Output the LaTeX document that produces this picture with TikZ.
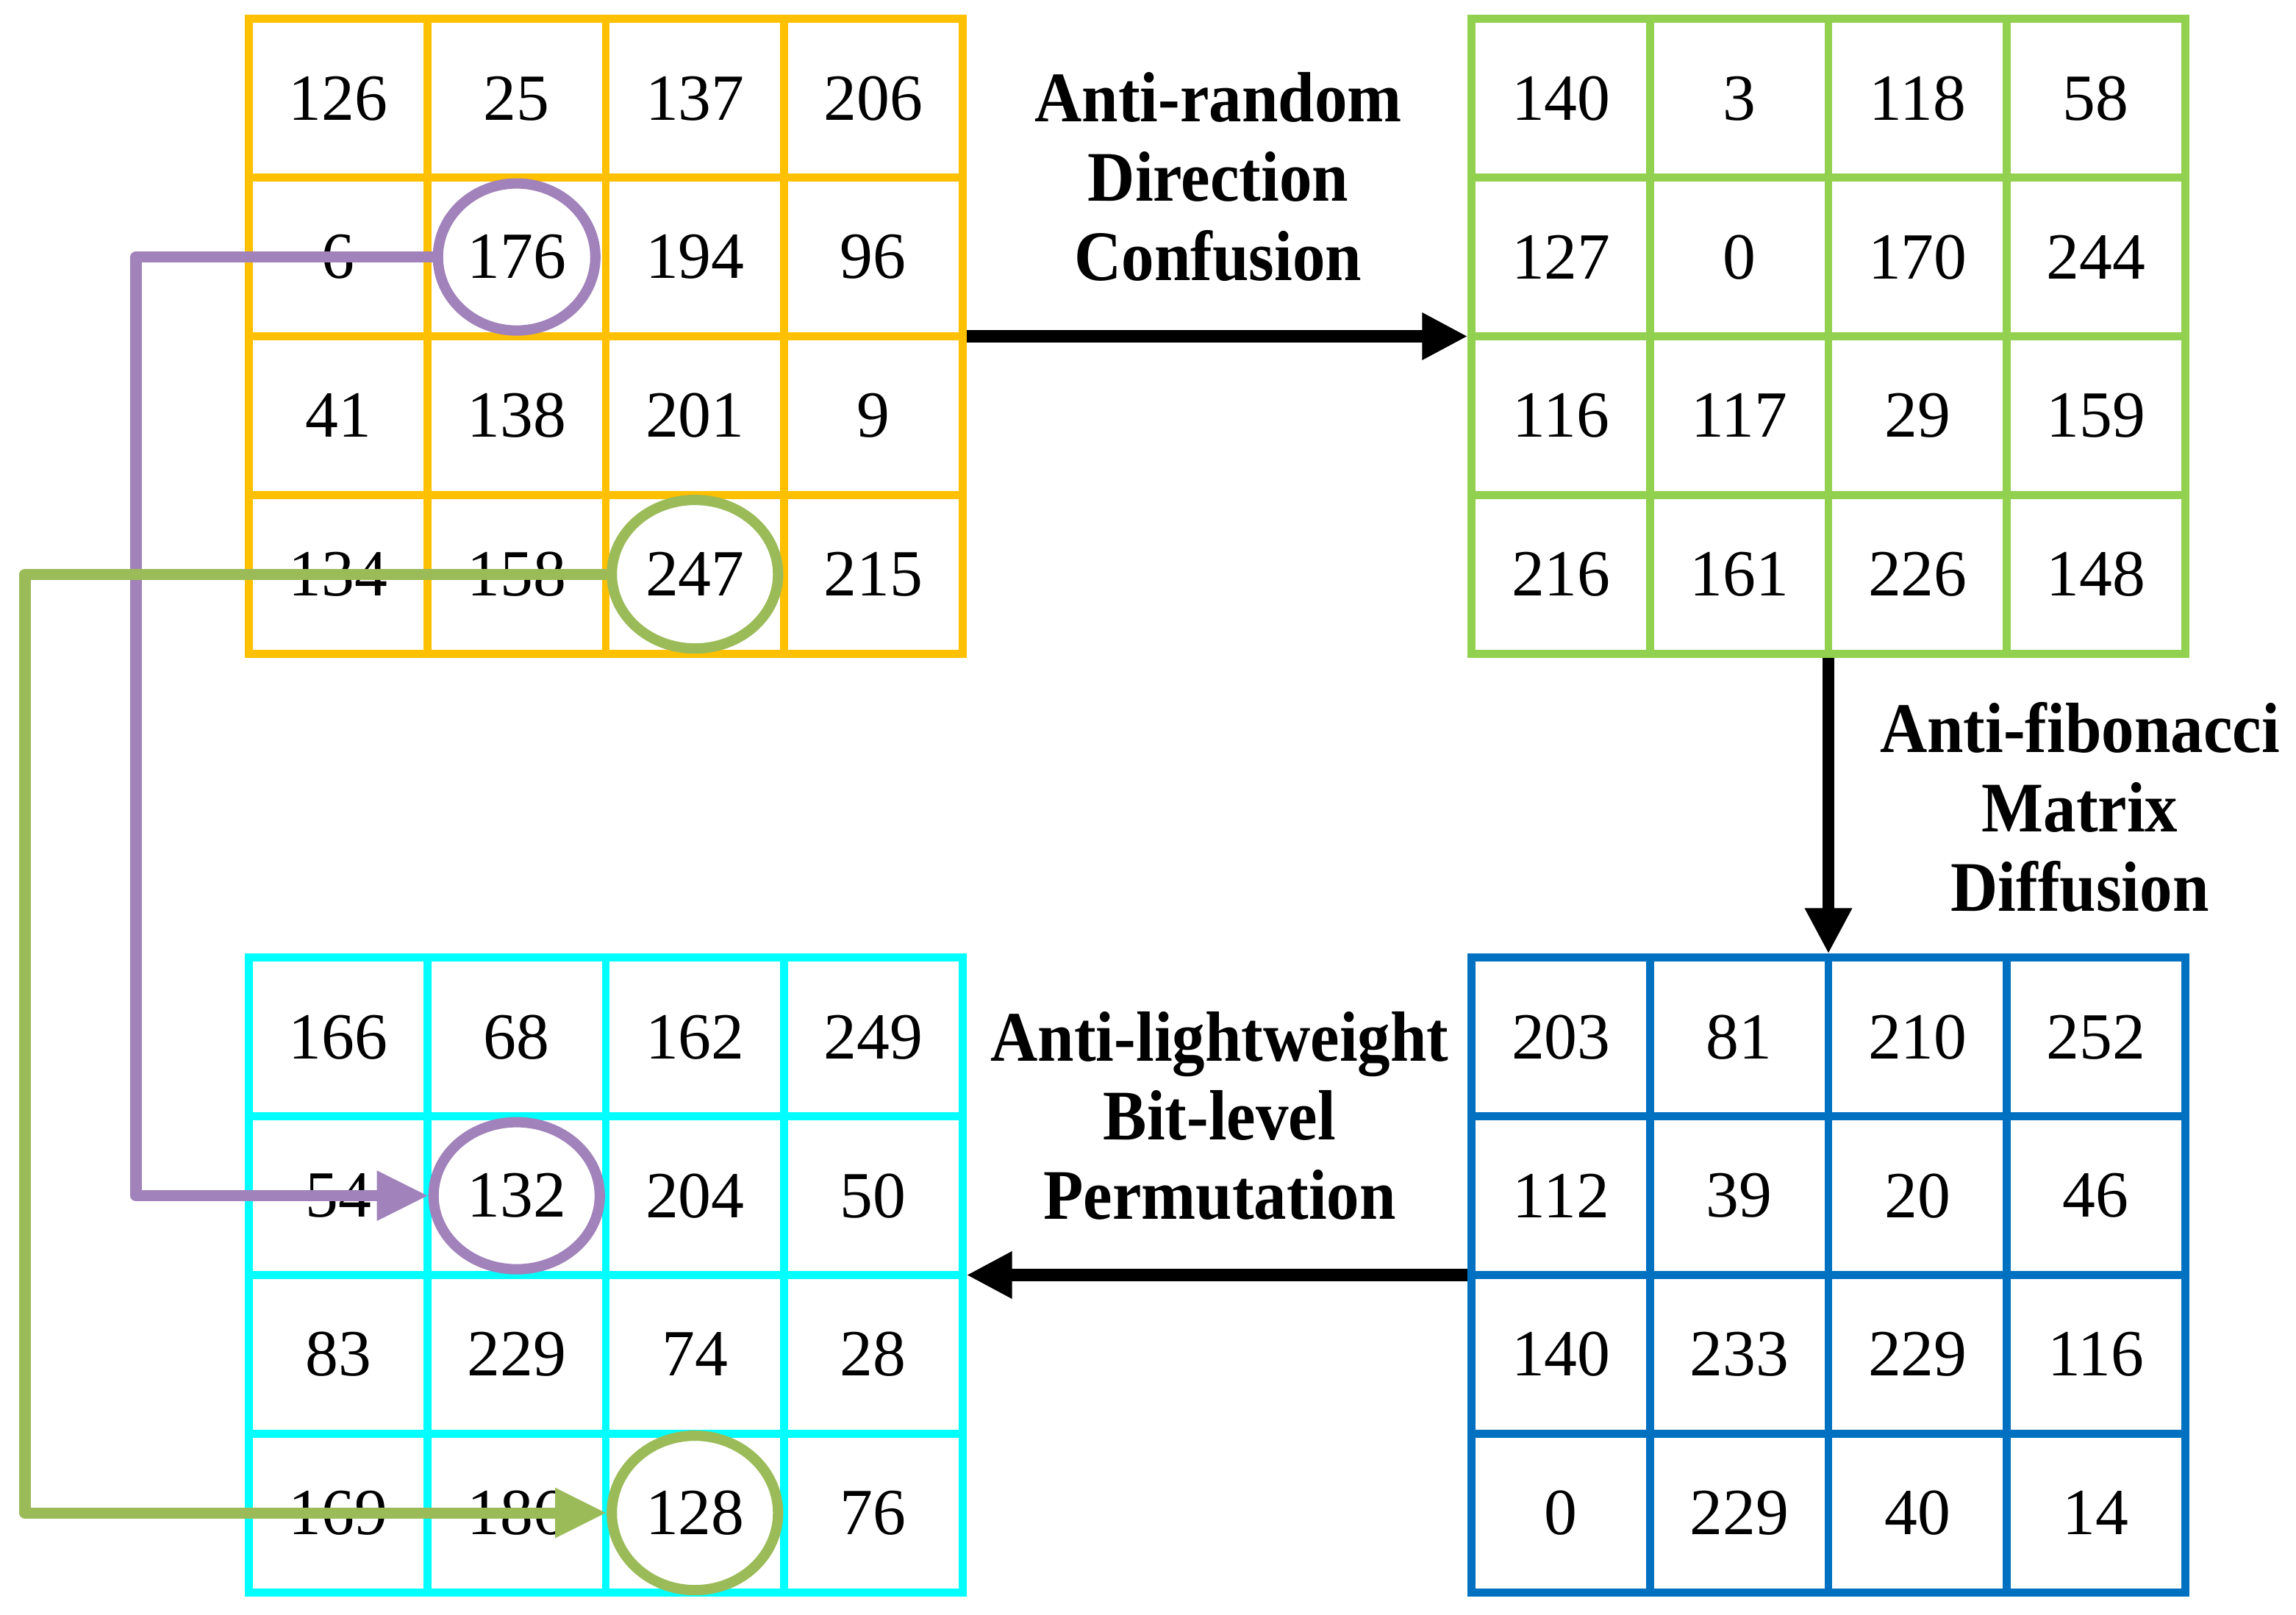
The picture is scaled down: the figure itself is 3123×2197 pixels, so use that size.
\documentclass[tikz,border=0pt]{standalone}
\usepackage{fontspec}
\setmainfont{Liberation Serif}
\newfontfamily\labfont[FakeStretch=0.92,BoldFont={Liberation Serif Bold}]{Liberation Serif}
\usetikzlibrary{arrows.meta,shapes.geometric}
\definecolor{ylw}{HTML}{FFC000}
\definecolor{grnA}{HTML}{92D050}
\definecolor{cyn}{HTML}{00FFFF}
\definecolor{blu}{HTML}{0070C0}
\definecolor{purp}{RGB}{161,130,186}
\definecolor{grnB}{HTML}{9BBB59}
\newcommand\mkgrid[5]{%
  \node[draw=#4, gridline, minimum width=9.7cm, minimum height=8.63cm, inner sep=0pt] (#1) at ({#2+485},{#3+431.5}) {};
  \foreach \k in {1,2,3}{%
    \draw[#4,gridline] ({#2+\k*242.5},#3) -- ({#2+\k*242.5},{#3+863});
    \draw[#4,gridline] (#2,{#3+\k*215.75}) -- ({#2+970},{#3+\k*215.75});
  }%
  \foreach \v [count=\i from 0] in {#5}{%
    \pgfmathtruncatemacro\rr{int(\i/4)}%
    \pgfmathtruncatemacro\cc{mod(\i,4)}%
    \node[num] (#1\rr\cc) at ({#2+(\cc+0.5)*242.5},{#3+(\rr+0.5)*215.75}) {\v};
  }%
}
\begin{document}
\begin{tikzpicture}[x=0.01cm,y=-0.01cm,
  gridline/.style={line width=3pt},
  num/.style={font=\fontsize{25.5}{30}\selectfont, inner sep=0pt},
  lab/.style={font=\labfont\bfseries\fontsize{27.5}{30.7}\selectfont, align=center, inner sep=0pt},
  flow/.style={line width=4.8pt, -{Triangle[length=0.62cm,width=0.6cm]}},
  ring/.style={ellipse, draw, line width=4pt, inner sep=0pt},
  link/.style={line width=4.3pt, line join=round, -{Triangle[length=0.7cm,width=0.64cm]}}]
\useasboundingbox (0,0) rectangle (3123,2197);

\mkgrid{Y}{339}{26}{ylw}{126,25,137,206,6,176,194,96,41,138,201,9,134,158,247,215}
\mkgrid{G}{2002}{26}{grnA}{140,3,118,58,127,0,170,244,116,117,29,159,216,161,226,148}
\mkgrid{C}{339}{1303}{cyn}{166,68,162,249,54,132,204,50,83,229,74,28,169,186,128,76}
\mkgrid{B}{2002}{1303}{blu}{203,81,210,252,112,39,20,46,140,233,229,116,0,229,40,14}

\node[lab] (L1) at (1657,241) {Anti-random\\Direction\\Confusion};
\node[lab] (L2) at (2829,1098) {Anti-fibonacci\\Matrix\\Diffusion};
\node[lab] (L3) at (1659,1518) {Anti-lightweight\\Bit-level\\Permutation};

\draw[flow] (Y.east) -- (G.west);
\draw[flow] (G.south) -- (B.north);
\draw[flow] (B.west) -- (C.east);

\coordinate (pv) at (185,0);
\coordinate (gv) at (34,0);

\node[ring, draw=purp, minimum width=2.14cm, minimum height=2.0cm] (e176) at (Y11) {};
\node[ring, draw=grnB, minimum width=2.26cm, minimum height=2.02cm] (e247) at (Y32) {};
\node[ring, draw=purp, minimum width=2.26cm, minimum height=2.0cm] (e132) at (C11) {};
\node[ring, draw=grnB, minimum width=2.26cm, minimum height=2.1cm] (e128) at (C32) {};

\draw[purp, link] (e176.west) -- (e176.west -| pv) |- (e132.west);
\draw[grnB, link] (e247.west) -- (e247.west -| gv) |- (e128.west);
\end{tikzpicture}
\end{document}
